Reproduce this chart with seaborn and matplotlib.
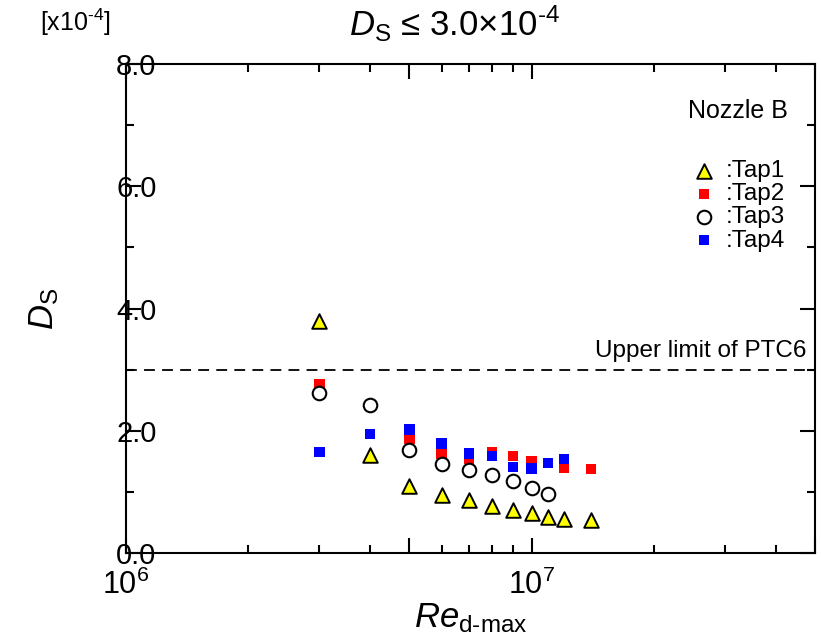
import numpy as np
import pandas as pd
import matplotlib
matplotlib.use("Agg")
import matplotlib.pyplot as plt
import matplotlib.ticker as mticker
import seaborn as sns

# ---------------- data ----------------
re_tap1 = [3.0e6, 4.0e6, 5.0e6, 6.0e6, 7.0e6, 8.0e6, 9.0e6, 1.0e7, 1.1e7, 1.2e7, 1.4e7]
ds_tap1 = [3.80, 1.60, 1.10, 0.95, 0.87, 0.77, 0.70, 0.65, 0.59, 0.56, 0.54]

re_tap2 = [3.0e6, 4.0e6, 5.0e6, 6.0e6, 7.0e6, 8.0e6, 9.0e6, 1.0e7, 1.1e7, 1.2e7, 1.4e7]
ds_tap2 = [2.77, 1.95, 1.86, 1.62, 1.54, 1.65, 1.59, 1.50, 1.47, 1.40, 1.37]

re_tap3 = [3.0e6, 4.0e6, 5.0e6, 6.0e6, 7.0e6, 8.0e6, 9.0e6, 1.0e7, 1.1e7]
ds_tap3 = [2.61, 2.42, 1.69, 1.46, 1.35, 1.28, 1.18, 1.06, 0.97]

re_tap4 = [3.0e6, 4.0e6, 5.0e6, 6.0e6, 7.0e6, 8.0e6, 9.0e6, 1.0e7, 1.1e7, 1.2e7]
ds_tap4 = [1.65, 1.95, 2.02, 1.79, 1.63, 1.59, 1.41, 1.38, 1.47, 1.54]

series_labels = [":Tap1", ":Tap2", ":Tap3", ":Tap4"]
upper_limit = 3.0
x_limits = (1e6, 5e7)
y_limits = (0.0, 8.0)
y_ticks = [0.0, 2.0, 4.0, 6.0, 8.0]
y_tick_labels = ["0.0", "2.0", "4.0", "6.0", "8.0"]

# ---------------- style ----------------
sns.set_theme(style="ticks")
FAM = ["Liberation Sans", "DejaVu Sans"]
plt.rcParams["font.family"] = FAM
plt.rcParams["mathtext.fontset"] = "custom"
plt.rcParams["mathtext.rm"] = "Liberation Sans"
plt.rcParams["mathtext.it"] = "Liberation Sans:italic"
plt.rcParams["mathtext.bf"] = "Liberation Sans:bold"
plt.rcParams["axes.edgecolor"] = "black"
plt.rcParams["axes.linewidth"] = 1.5
plt.rcParams["text.color"] = "black"
plt.rcParams["axes.labelcolor"] = "black"
plt.rcParams["xtick.color"] = "black"
plt.rcParams["ytick.color"] = "black"

fig = plt.figure(figsize=(8.21, 6.42), dpi=100)
ax = fig.add_axes([126 / 821, 1 - 553 / 642, (815 - 126) / 821, (553 - 64) / 642])

frames = []
for lab, xs, ys in [(series_labels[0], re_tap1, ds_tap1),
                    (series_labels[1], re_tap2, ds_tap2),
                    (series_labels[2], re_tap3, ds_tap3),
                    (series_labels[3], re_tap4, ds_tap4)]:
    frames.append(pd.DataFrame({"Re": xs, "Ds": ys, "tap": lab}))
df = pd.concat(frames, ignore_index=True)

styles = {
    ":Tap1": dict(marker="^", s=110, color="#ffff00", edgecolor="black", linewidth=1.4),
    ":Tap2": dict(marker="s", s=55, color="#ff0000", edgecolor="none", linewidth=0),
    ":Tap3": dict(marker="o", s=95, color="white", edgecolor="black", linewidth=1.5),
    ":Tap4": dict(marker="s", s=55, color="#0000ff", edgecolor="none", linewidth=0),
}
for lab in series_labels:
    sub = df[df["tap"] == lab]
    sns.scatterplot(data=sub, x="Re", y="Ds", ax=ax, label=lab, zorder=3,
                    **styles[lab])

ax.axhline(upper_limit, color="black", lw=1.3, ls=(0, (6, 4)), zorder=2)

ax.set_xscale("log")
ax.set_xlim(*x_limits)
ax.set_ylim(*y_limits)

# x ticks
ax.xaxis.set_major_locator(mticker.FixedLocator([1e6, 5e6, 1e7, 5e7]))
ax.xaxis.set_major_formatter(mticker.FixedFormatter([r"$10^{6}$", "", r"$10^{7}$", ""]))
ax.xaxis.set_minor_locator(mticker.LogLocator(base=10, subs=(2, 3, 4, 6, 7, 8, 9), numticks=20))
ax.xaxis.set_minor_formatter(mticker.NullFormatter())
# y ticks
ax.set_yticks(y_ticks)
ax.set_yticklabels(y_tick_labels)
ax.yaxis.set_minor_locator(mticker.MultipleLocator(1.0))

ax.tick_params(which="both", direction="in", top=True, right=True, color="black", width=1.5)
ax.tick_params(which="major", length=11)
ax.tick_params(which="minor", length=6)
ax.tick_params(axis="y", which="major", labelsize=21, pad=-22)
ax.tick_params(axis="x", which="major", labelsize=22, pad=12)
for t in ax.get_yticklabels():
    t.set_horizontalalignment("right")

ax.set_xlabel(r"$\mathit{Re}_{\mathrm{d\text{-}max}}$", fontsize=25, labelpad=0)
ax.set_ylabel(r"$\mathit{D}_{\mathrm{S}}$", fontsize=25, labelpad=40)

# texts
ax.text(0.988, upper_limit + 0.12, "Upper limit of PTC6", transform=ax.get_yaxis_transform(),
        ha="right", va="bottom", fontsize=17.5)
fig.text(788 / 821, 1 - 118 / 642, "Nozzle B", ha="right", va="baseline", fontsize=18)
fig.text(455 / 821, 1 - 36 / 642, r"$\mathit{D}_{\mathrm{S}}$ ≤ 3.0×10$^{\text{-4}}$",
         ha="center", va="baseline", fontsize=25)
fig.text(40 / 821, 1 - 31 / 642, r"[x10$^{\text{-4}}$]", ha="left", va="baseline", fontsize=18)

leg = ax.legend(loc="upper left", bbox_to_anchor=(692 / 821, 1 - 160 / 642),
                bbox_transform=fig.transFigure, frameon=False, fontsize=17.5,
                handlelength=1.0, handletextpad=0.4, labelspacing=0.05,
                borderpad=0.0, borderaxespad=0.0)

fig.savefig("out.png", dpi=100)
